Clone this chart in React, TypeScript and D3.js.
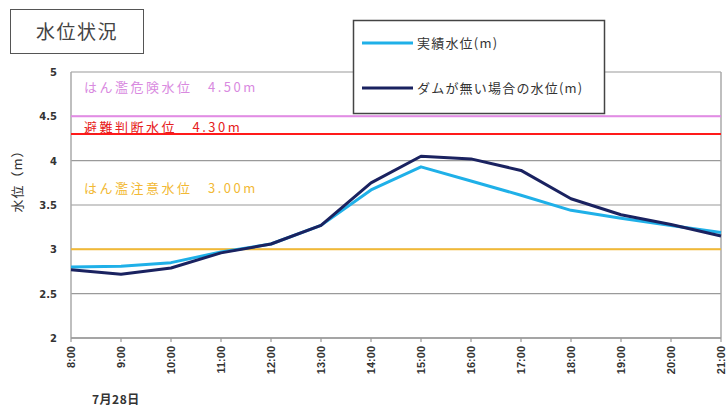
import React from "react";
import * as d3 from "d3";

const hours = ["8:00","9:00","10:00","11:00","12:00","13:00","14:00","15:00","16:00","17:00","18:00","19:00","20:00","21:00"];
const actual = [2.80, 2.81, 2.85, 2.97, 3.06, 3.27, 3.67, 3.93, 3.77, 3.61, 3.44, 3.35, 3.27, 3.19];
const noDam = [2.77, 2.72, 2.79, 2.96, 3.06, 3.27, 3.75, 4.05, 4.02, 3.89, 3.57, 3.39, 3.28, 3.15];
const yTicks = [2, 2.5, 3, 3.5, 4, 4.5, 5];
const refLevels = [
  { value: 4.5, label: "はん濫危険水位　4.50m", color: "#E38BE6", text: "#D98ADF", dy: -24 },
  { value: 4.3, label: "避難判断水位　4.30m", color: "#FF1A1A", text: "#E62020", dy: -2 },
  { value: 3.0, label: "はん濫注意水位　3.00m", color: "#F2B935", text: "#F2B935", dy: -56 },
];
const seriesNames = ["実績水位(m)", "ダムが無い場合の水位(m)"];
const seriesColors = ["#1FB0E8", "#1A2260"];

export default function App() {
  const W = 726, H = 408;
  const x = d3.scalePoint<string>().domain(hours).range([71, 721]);
  const y = d3.scaleLinear().domain([2, 5]).range([338, 72]);
  const line = d3.line<number>().x((_, i) => x(hours[i])!).y((d) => y(d));
  const font = "'Noto Sans CJK JP', 'Noto Sans', sans-serif";
  return (
    <svg width={W} height={H} style={{ position: "absolute", left: 0, top: 0, background: "#fff" }} fontFamily={font}>
      {/* title box */}
      <rect x={10.5} y={9.5} width={133} height={44} fill="#fff" stroke="#555" strokeWidth={1} />
      <text x={77} y={39} textAnchor="middle" fontSize={19} letterSpacing={1.5} fill="#444">水位状況</text>

      {/* grid */}
      {yTicks.map((t) => (
        <line key={t} x1={71} x2={721} y1={y(t)} y2={y(t)} stroke="#9a9a9a" strokeWidth={1.2} />
      ))}
      {/* plot border */}
      <line x1={71} x2={71} y1={y(5)} y2={y(2)} stroke="#aaa" strokeWidth={1.5} />
      <line x1={721} x2={721} y1={y(5)} y2={y(2)} stroke="#aaa" strokeWidth={1.5} />
      <line x1={71} x2={721} y1={y(2)} y2={y(2)} stroke="#999" strokeWidth={1.5} />

      {/* reference lines */}
      {refLevels.map((r) => (
        <g key={r.value}>
          <line x1={71} x2={721} y1={y(r.value)} y2={y(r.value)} stroke={r.color} strokeWidth={2} />
          <text x={84} y={y(r.value) + r.dy} fontSize={13} letterSpacing={2.5} fill={r.text}>{r.label}</text>
        </g>
      ))}

      {/* y ticks */}
      {yTicks.map((t) => (
        <text key={t} x={57} y={y(t) + 4} textAnchor="end" fontSize={10} fontWeight="bold" fill="#333" fontFamily="'DejaVu Sans', sans-serif">{t}</text>
      ))}
      <text transform={`translate(22,178) rotate(-90)`} textAnchor="middle" fontSize={13} letterSpacing={1} fill="#333">水位（m）</text>

      {/* x ticks */}
      {hours.map((h) => (
        <g key={h}>
          <line x1={x(h)} x2={x(h)} y1={338} y2={342} stroke="#999" strokeWidth={1.2} />
          <text transform={`translate(${x(h)! + 4},346) rotate(-90)`} textAnchor="end" fontSize={11} fontWeight="bold" fill="#333" fontFamily="'Liberation Sans', sans-serif">{h}</text>
        </g>
      ))}
      <text x={92} y={404} fontSize={12} fontWeight="bold" letterSpacing={0.5} fill="#333">7月28日</text>

      {/* series */}
      <path d={line(actual)!} fill="none" stroke={seriesColors[0]} strokeWidth={3} strokeLinejoin="round" />
      <path d={line(noDam)!} fill="none" stroke={seriesColors[1]} strokeWidth={3} strokeLinejoin="round" />

      {/* legend */}
      <rect x={353.5} y={20.5} width={251} height={93} fill="#fff" stroke="#444" strokeWidth={1.5} />
      {seriesNames.map((n, i) => (
        <g key={n}>
          <line x1={362} x2={413} y1={43 + i * 45} y2={43 + i * 45} stroke={seriesColors[i]} strokeWidth={3} />
          <text x={417} y={48 + i * 45} fontSize={13} letterSpacing={1.2} fill="#333">{n}</text>
        </g>
      ))}
    </svg>
  );
}
